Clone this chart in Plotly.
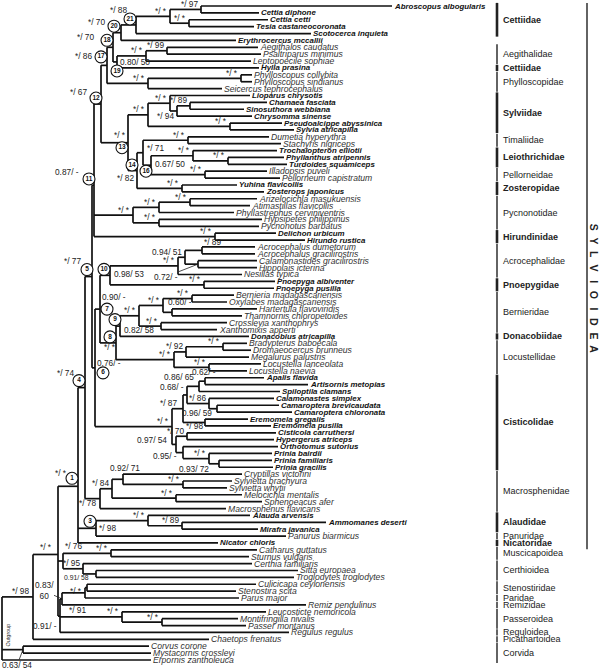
import plotly.graph_objects as go

FONT = "Liberation Sans"

# ---------------- leaves (top to bottom) ----------------
LEAF_NAMES = [
    "Abroscopus albogularis", "Cettia diphone", "Cettia cetti", "Tesia castaneocoronata", "Scotocerca inquieta",
    "Erythrocercus mccallii", "Aegithalos caudatus", "Psaltriparus minimus", "Leptopoecile sophiae", "Hylia prasina",
    "Phylloscopus collybita", "Phylloscopus sindianus", "Seicercus tephrocephalus", "Lioparus chrysotis", "Chamaea fasciata",
    "Sinosuthora webbiana", "Chrysomma sinense", "Pseudoalcippe abyssinica", "Sylvia atricapilla", "Dumetia hyperythra",
    "Stachyris nigriceps", "Trochalopteron elliotii", "Phyllanthus atripennis", "Turdoides squamiceps", "Illadopsis puveli",
    "Pellorneum capistratum", "Yuhina flavicollis", "Zosterops japonicus", "Arizelocichla masukuensis", "Atimastillas flavicollis",
    "Phyllastrephus cerviniventris", "Hypsipetes philippinus", "Pycnonotus barbatus", "Delichon urbicum", "Hirundo rustica",
    "Acrocephalus dumetorum", "Acrocephalus gracilirostris", "Calamonastides gracilirostris", "Hippolais icterina", "Nesillas typica",
    "Pnoepyga albiventer", "Pnoepyga pusilla", "Bernieria madagascariensis", "Oxylabes madagascariensis", "Hartertula flavoviridis",
    "Thamnornis chloropetoides", "Crossleyia xanthophrys", "Xanthomixis apperti", "Donacobius atricapilla", "Bradypterus baboecala",
    "Dromaeocercus brunneus", "Megalurus palustris", "Locustella lanceolata", "Locustella naevia", "Apalis flavida",
    "Artisornis metopias", "Spiloptila clamans", "Calamonastes simplex", "Camaroptera brevicaudata", "Camaroptera chloronata",
    "Eremomela gregalis", "Eremomela pusilla", "Cisticola carruthersi", "Hypergerus atriceps", "Orthotomus sutorius",
    "Prinia bairdii", "Prinia familiaris", "Prinia gracilis", "Cryptillas victorini", "Sylvietta brachyura",
    "Sylvietta whytii", "Melocichla mentalis", "Sphenoeacus afer", "Macrosphenus flavicans", "Alauda arvensis",
    "Ammomanes deserti", "Mirafra javanica", "Panurus biarmicus", "Nicator chloris", "Catharus guttatus",
    "Sturnus vulgaris", "Certhia familiaris", "Sitta europaea", "Troglodytes troglodytes", "Culicicapa ceylonensis",
    "Stenostira scita", "Parus major", "Remiz pendulinus", "Leucosticte nemoricola", "Montifringilla nivalis",
    "Passer montanus", "Regulus regulus", "Chaetops frenatus", "Corvus corone", "Mystacornis crossleyi",
    "Erpornis zantholeuca",
]
# tip depth of each leaf (tree scale units)
LEAF_DEPTH = [
    392, 259, 268, 254, 311, 236, 258, 261, 251, 259,
    252, 252, 222, 250, 267, 244, 252, 282, 294, 269,
    281, 277, 284, 287, 267, 280, 237, 264, 257, 250,
    234, 262, 259, 276, 305, 255, 255, 257, 257, 242,
    275, 274, 234, 227, 257, 242, 227, 217, 249, 247,
    251, 249, 261, 247, 264, 308, 280, 274, 279, 292,
    248, 271, 276, 274, 278, 272, 272, 273, 242, 232,
    227, 242, 262, 226, 250, 326, 258, 286, 218, 257,
    249, 252, 298, 294, 256, 236, 239, 306, 266, 238,
    246, 289, 209, 149, 151, 151,
]
LEAF_BOLD = [
    1, 1, 1, 1, 1, 1, 0, 0, 0, 1,
    0, 0, 0, 1, 1, 1, 1, 1, 1, 0,
    0, 1, 1, 1, 0, 0, 1, 1, 0, 0,
    0, 0, 0, 1, 1, 0, 0, 0, 0, 0,
    1, 1, 0, 0, 0, 0, 0, 0, 1, 0,
    0, 0, 0, 0, 1, 1, 1, 1, 1, 1,
    1, 1, 1, 1, 1, 1, 1, 1, 0, 0,
    0, 0, 0, 0, 1, 1, 1, 0, 1, 0,
    0, 0, 0, 0, 0, 0, 0, 0, 0, 0,
    0, 0, 0, 0, 0, 0,
]

# ---------------- internal nodes ----------------
# (name, children [int = leaf number, str = node], depth, support)
NODES = [
    ("ab", [1, 2], 201, "*/ 97"),
    ("ct", [3, 4], 189, "*/ *"),
    ("c1", ["ab", "ct"], 170, "*/ *"),
    ("n21", ["c1", 5], 136, "*/ 88"),
    ("n20", ["n21", 6], 121, "*/ 70"),
    ("ag1", [7, 8], 167, "*/ 99"),
    ("ag", ["ag1", 9], 146, "*/ *"),
    ("n19", ["ag", 10], 117, "0.80/ 50"),
    ("n18", ["n20", "n19"], 113, "*/ 70"),
    ("ph1", [11, 12], 241, "*/ *"),
    ("ph", ["ph1", 13], 148, "*/ *"),
    ("n17", ["n18", "ph"], 107, "*/ 86"),
    ("s1", [15, 16], 190, "*/ 89"),
    ("s2", ["s1", 17], 177, "*/ 94"),
    ("s3", [14, "s2"], 170, "*/ *"),
    ("s4", [18, 19], 230, "*/ *"),
    ("syl", ["s3", "s4"], 148, "*/ *"),
    ("t1", [20, 21], 188, "*/ *"),
    ("l1", [23, 24], 228, "*/ *"),
    ("l", [22, "l1"], 193, "*/ *"),
    ("pe", [25, 26], 205, "*/ *"),
    ("n16", ["l", "pe"], 151, "0.67/ 50"),
    ("n15", ["t1", "n16"], 143, "*/ 71"),
    ("z", [27, 28], 182, "*/ *"),
    ("n14", ["n15", "z"], 137, "*/ 82"),
    ("n13", ["syl", "n14"], 128, "*/ *"),
    ("n12", ["n17", "n13"], 101, "*/ 67"),
    ("py1", [29, 30], 190, "*/ *"),
    ("py2", ["py1", 31], 159, "*/ *"),
    ("py3", [32, 33], 159, "*/ *"),
    ("py", ["py2", "py3"], 133, "*/ *"),
    ("hi", [34, 35], 215, "*/ *"),
    ("n11", ["n12", "py", "hi"], 94, "0.87/ -"),
    ("a1", [36, 37], 202, "*/ 89"),
    ("a2", [38, 39], 198, None),
    ("a3", ["a1", "a2"], 185, "0.94/ 51"),
    ("acr", ["a3", 40], 178, "*/ *"),
    ("pn", [41, 42], 204, "*/ *"),
    ("n10", ["acr", "pn"], 110, "0.98/ 53"),
    ("b1", [43, 44], 192, "*/ *"),
    ("b2", [45, 46], 172, "0.60/ -"),
    ("b", ["b1", "b2"], 163, "*/ *"),
    ("b3", [47, 48], 161, "*/ *"),
    ("ber", ["b", "b3"], 139, "*/ *"),
    ("n9", ["ber", 49], 120, "0.82/ 58"),
    ("lo1", [50, 51], 223, "*/ *"),
    ("lo2", ["lo1", 52], 186, "*/ 92"),
    ("lo3", [53, 54], 209, "*/ *"),
    ("lo", ["lo2", "lo3"], 174, "*/ *"),
    ("n8", ["n9", "lo"], 116, "*/ *"),
    ("n7", ["n10", "n8"], 100, "0.90/ -"),
    ("ci1", [55, 56], 205, None),
    ("ci2", ["ci1", 57], 199, "0.86/ 65"),
    ("cm", [59, 60], 217, "0.96/ 59"),
    ("cl", [58, "cm"], 209, "*/ 86"),
    ("ci3", ["ci2", "cl"], 187, "0.68/ -"),
    ("er", [61, 62], 205, "*/ 98"),
    ("ci4", ["ci3", "er"], 183, "*/ 87"),
    ("ch", [63, 64], 187, "*/ 70"),
    ("pr1", [67, 68], 219, "0.93/ 72"),
    ("pr", [66, "pr1"], 209, "*/ *"),
    ("op", [65, "pr"], 183, "0.95/ -"),
    ("cb", ["ch", "op"], 176, "0.97/ 54"),
    ("ci", ["ci4", "cb"], 172, "*/ *"),
    ("n6", ["n7", "ci"], 95, "0.76/ -"),
    ("n5", ["n11", "n6"], 92, "*/ 77"),
    ("sv", [70, 71], 183, "*/ *"),
    ("m1", [69, "sv"], 123, "0.92/ 71"),
    ("m2", [72, 73], 176, "*/ *"),
    ("m3", ["m1", "m2"], 112, "*/ 84"),
    ("mac", ["m3", 74], 100, "*/ 78"),
    ("n4", ["n5", "mac"], 85, "*/ 74"),
    ("al1", [76, 77], 182, "*/ 89"),
    ("al", [75, "al1"], 148, "*/ *"),
    ("n3", ["al", 78], 96, "*/ 98"),
    ("n1", ["n4", "n3", 79], 78, "*/ *"),
    ("mu", [80, 81], 111, "*/ *"),
    ("ce1", [83, 84], 96, "0.91/ 58"),
    ("ce", [82, "ce1"], 83, "*/ 95"),
    ("mc", ["mu", "ce"], 63, "*/ 76"),
    ("st", [85, 86], 87, "*/ *"),
    ("sp", ["st", 87], 85, "*/ 91"),
    ("spr", ["sp", 88], 62, None),
    ("ps1", [90, 91], 162, "*/ *"),
    ("ps", [89, "ps1"], 122, "*/ *"),
    ("lw", ["spr", "ps", 92], 60, "0.91/ -"),
    ("P", ["n1", "mc", "lw"], 58, "*/ *"),
    ("pass", ["P", 93], 33, "*/ 98"),
    ("co1", [94, 95], 23, None),
    ("root", ["pass", "co1", 96], 2, None),
]

# circled node numbers
CIRCLES = {"n1": 1, "n3": 3, "n4": 4, "n5": 5, "n6": 6, "n7": 7, "n8": 8, "n9": 9, "n10": 10,
           "n11": 11, "n12": 12, "n13": 13, "n14": 14, "n16": 16, "n17": 17, "n18": 18,
           "n19": 19, "n20": 20, "n21": 21}

# pointer-style support labels: node -> text
POINTERS = {"a2": "0.72/ -", "spr": "0.83/<br>60", "co1": "0.63/ 54"}
ROOT_NOTE = "Outgroup"

# clade brackets on the right: (label, first leaf, last leaf, bold)
FAMILIES = [
    ("Cettiidae", 1, 5, True), ("Aegithalidae", 7, 9, False), ("Cettiidae", 10, 10, True),
    ("Phylloscopidae", 11, 13, False), ("Sylviidae", 14, 19, True), ("Timaliidae", 20, 21, False),
    ("Leiothrichidae", 22, 24, True), ("Pellorneidae", 25, 26, False), ("Zosteropidae", 27, 28, True),
    ("Pycnonotidae", 29, 33, False), ("Hirundinidae", 34, 35, True), ("Acrocephalidae", 36, 40, False),
    ("Pnoepygidae", 41, 42, True), ("Bernieridae", 43, 48, False), ("Donacobiidae", 49, 49, True),
    ("Locustellidae", 50, 54, False), ("Cisticolidae", 55, 68, True), ("Macrosphenidae", 69, 74, False),
    ("Alaudidae", 75, 77, True), ("Panuridae", 78, 78, False), ("Nicatoridae", 79, 79, True),
    ("Muscicapoidea", 80, 81, False), ("Certhioidea", 82, 84, False), ("Stenostiridae", 85, 86, False),
    ("Paridae", 87, 87, False), ("Remizidae", 88, 88, False), ("Passeroidea", 89, 91, False),
    ("Reguloidea", 92, 92, False), ("Picathartoidea", 93, 93, False), ("Corvida", 94, 96, False),
]
SUPERFAMILY = ("SYLVIOIDEA", 1, 79)

# ---------------- layout helpers (pixel styling) ----------------
ROW = 6.884          # pixels per leaf row
TOP = 6.0            # pixel y of first row
W, H = 600, 670

# support-label placement: node -> (dx px, dy px, xanchor)
DEFAULT_LAB = (-2, -5.5, "right")
LAB = {
    "n21": (-8, -15, "right"), "n20": (-15, -10.5, "right"), "n18": (-18, -10, "right"),
    "n17": (-14, -9.5, "right"), "n12": (-13, -12, "right"), "n11": (-14, -13, "right"),
    "n5": (-10, -16, "right"), "n4": (-10, -15, "right"), "n1": (-10, -13, "right"),
    "n19": (2, 0, "left"), "n16": (3, -1, "left"), "n10": (3, -1, "left"), "n9": (3, 3.5, "left"),
    "n3": (2, 0, "left"), "n15": (3, -5, "left"), "n13": (-1, -8, "right"), "n14": (-2, 7.5, "right"),
    "s2": (-2, 5, "right"), "a1": (10, -8, "center"), "b2": (-5, -10, "left"),
    "n7": (14, -12, "center"), "n8": (-6, 4, "center"), "n6": (14, -5, "center"),
    "cm": (-4, 4, "right"), "er": (-1, 4, "right"), "pr1": (-9, 5.5, "right"), "op": (-5, 3, "right"),
    "cb": (-8, -4, "right"), "ci4": (-5, -6, "right"), "ci3": (-2, -8, "right"), "ci2": (-4, -9.5, "right"),
    "m1": (2, -11, "center"), "mac": (-3, 4, "right"), "ce1": (-6, 4, "right"), "mc": (1, -15, "left"),
    "st": (-4, 3, "right"), "sp": (-17, 17, "left"), "lw": (-2, 10, "right"), "P": (-5, -7, "right"),
    "pass": (-3, -6, "right"),
}
CIRC_OFF = {
    "n21": (-6, -6), "n20": (-7, -6.5), "n18": (-6, -7), "n17": (-6, -8.5), "n19": (0, 9),
    "n12": (-5, -6), "n13": (-6, 5), "n14": (-5, -5.6), "n16": (-5, 6), "n11": (-5, -6.3),
    "n10": (-6, -6), "n9": (-5, -6.5), "n8": (-6, -6), "n7": (7, 0), "n6": (8, 5),
    "n5": (-5, -7), "n4": (-6, -7), "n3": (-6, -7), "n1": (-6, -8),
}
EXTRA_LABELS = [("lo3", "0.62/ -", -5, 4.5, "center")]
POINTER_OFF = {"a2": (-32, 12.5), "spr": (-18, -8), "co1": (-6, 15.5)}

# ---------------- compute tree geometry ----------------
node_map = {n[0]: n for n in NODES}
pos = {}


def key(c):
    return ("L", c) if isinstance(c, int) else ("N", c)


for i, name in enumerate(LEAF_NAMES):
    pos[("L", i + 1)] = (LEAF_DEPTH[i], float(i))


def place(name):
    k = ("N", name)
    if k in pos:
        return pos[k]
    _, children, depth, _ = node_map[name]
    ys = []
    for c in children:
        if isinstance(c, str):
            place(c)
        ys.append(pos[key(c)][1])
    pos[k] = (depth, sum(ys) / len(ys))
    return pos[k]


for n in NODES:
    place(n[0])

lx, ly = [], []
for name, children, depth, sup in NODES:
    nx, ny = pos[("N", name)]
    cy = [pos[key(c)][1] for c in children]
    lx += [nx, nx, None]
    ly += [min(cy), max(cy), None]
    for c in children:
        cx, cyy = pos[key(c)]
        lx += [nx, cx, None]
        ly += [cyy, cyy, None]

fig = go.Figure()
fig.add_trace(go.Scatter(x=lx, y=ly, mode="lines", line=dict(color="#111", width=1.7),
                         hoverinfo="skip", showlegend=False))


def dy(px):
    return px / ROW


ann = []
# leaf labels
for i, name in enumerate(LEAF_NAMES):
    x, y = pos[("L", i + 1)]
    if LEAF_BOLD[i]:
        txt, size, col = "<b><i>%s</i></b>" % name, 7.9, "#111"
    else:
        txt, size, col = "<i>%s</i>" % name, 8.6, "#333"
    ann.append(dict(x=x + 0.5, y=y, text=txt, xanchor="left", yanchor="middle", showarrow=False,
                    font=dict(family=FONT, size=size, color=col), borderpad=0))

# support labels
for name, children, depth, sup in NODES:
    if sup is None:
        continue
    nx, ny = pos[("N", name)]
    ddx, ddy, anc = LAB.get(name, DEFAULT_LAB)
    small = name == "ce1"
    ann.append(dict(x=nx + ddx, y=ny + dy(ddy), text=sup, xanchor=anc, yanchor="middle", showarrow=False,
                    font=dict(family=FONT, size=6.8 if small else 8.3, color="#222"), borderpad=0))
for name, txt, ddx, ddy, anc in EXTRA_LABELS:
    nx, ny = pos[("N", name)]
    ann.append(dict(x=nx + ddx, y=ny + dy(ddy), text=txt, xanchor=anc, yanchor="middle", showarrow=False,
                    font=dict(family=FONT, size=8.3, color="#222"), borderpad=0))
for name, txt in POINTERS.items():
    nx, ny = pos[("N", name)]
    ax, ay = POINTER_OFF[name]
    ann.append(dict(x=nx, y=ny, text=txt, showarrow=True, arrowhead=0, arrowwidth=0.8, arrowcolor="#222",
                    ax=ax, ay=ay, standoff=0, font=dict(family=FONT, size=8.3, color="#222"), borderpad=0))

# small rotated note beside the root
rx, ry = pos[("N", "root")]
ann.append(dict(x=rx + 6, y=ry, text=ROOT_NOTE, textangle=-90, showarrow=False, xanchor="center",
                yanchor="middle", font=dict(family=FONT, size=5.5, color="#333"), borderpad=0))

# circles
cxs, cys, ctx = [], [], []
for name, num in CIRCLES.items():
    nx, ny = pos[("N", name)]
    ox, oy = CIRC_OFF[name]
    cxs.append(nx + ox)
    cys.append(ny + dy(oy))
    ctx.append("<b>%d</b>" % num)
fig.add_trace(go.Scatter(x=cxs, y=cys, mode="markers+text", text=ctx, textposition="middle center",
                         marker=dict(symbol="circle", size=12, color="white", line=dict(color="#111", width=1.1)),
                         textfont=dict(family=FONT, size=6.5, color="#111"), hoverinfo="skip", showlegend=False))

# family brackets
BAR_X, LAB_X = 497, 502
for label, a, b, bold in FAMILIES:
    y0, y1 = a - 1 - 0.45, b - 1 + 0.45
    fig.add_trace(go.Scatter(x=[BAR_X, BAR_X], y=[y0, y1], mode="lines",
                             line=dict(color="#222", width=2.6 if bold else 1.4),
                             hoverinfo="skip", showlegend=False))
    ann.append(dict(x=LAB_X, y=(y0 + y1) / 2, text="<b>%s</b>" % label if bold else label, xanchor="left",
                    yanchor="middle", showarrow=False, borderpad=0,
                    font=dict(family=FONT, size=9, color="#222")))

# superfamily bracket
sname, sa, sb = SUPERFAMILY
fig.add_trace(go.Scatter(x=[587, 587], y=[sa - 1 - 0.45, sb - 1 + 0.9], mode="lines",
                         line=dict(color="#222", width=1.4), hoverinfo="skip", showlegend=False))
scent = 288
for j, ch in enumerate(sname):
    ann.append(dict(x=594, y=(scent - TOP) / ROW + dy((j - 4.5) * 13.6), text="<b>%s</b>" % ch,
                    textangle=90, showarrow=False, xanchor="center", yanchor="middle",
                    font=dict(family=FONT, size=10.5, color="#222"), borderpad=0))

fig.update_layout(
    width=W, height=H, margin=dict(l=0, r=0, t=0, b=0),
    paper_bgcolor="white", plot_bgcolor="white",
    xaxis=dict(range=[0, W], visible=False, fixedrange=True),
    yaxis=dict(range=[(H - TOP) / ROW, -TOP / ROW], visible=False, fixedrange=True),
    annotations=ann, showlegend=False, hovermode=False,
)
fig.write_html("out.html", config={"displayModeBar": False, "staticPlot": True},
               post_script="document.body.style.margin='0';document.body.style.overflow='hidden';")
